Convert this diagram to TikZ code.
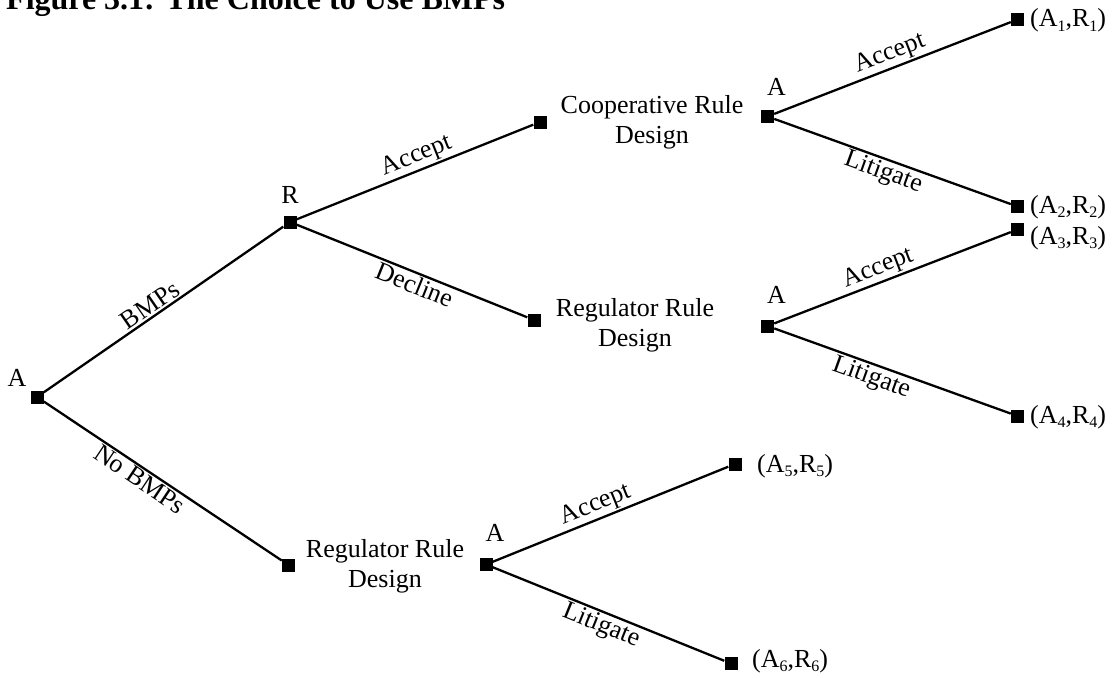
\documentclass[tikz,border=0pt]{standalone}
\usepackage{fontspec}
\setmainfont{Liberation Serif}
\newcommand\subidx[1]{\raisebox{-4.5pt}{\fontsize{16}{16}\selectfont #1}}
\begin{document}
\begin{tikzpicture}[x=1pt,y=1pt,
  sq/.style={rectangle, fill=black, inner sep=0pt, minimum size=13pt},
  edge/.style={line width=2.3pt},
  txt/.style={inner sep=0pt, font=\fontsize{26}{30}\selectfont},
  blk/.style={inner sep=0pt, align=center, font=\fontsize{26}{30}\selectfont},
  lab/.style={sloped, inner sep=1.5pt, font=\fontsize{26}{30}\selectfont}]
\useasboundingbox (0,0) rectangle (1118,-677);

% title
\node[anchor=base west, inner sep=0pt, font=\fontsize{32}{36}\selectfont\bfseries] (title) at (6,-9.5) {Figure 3.1: The Choice to Use BMPs};

% decision squares
\node[sq] (root) at (37,-397) {};
\node[sq] (R) at (290,-222) {};
\node[sq] (coop) at (540,-122) {};
\node[sq] (Aup) at (767.5,-116.5) {};
\node[sq] (t1) at (1017.5,-19.5) {};
\node[sq] (t2) at (1017.5,-206.5) {};
\node[sq] (dec) at (534,-320) {};
\node[sq] (Amid) at (767.5,-326) {};
\node[sq] (t3) at (1017.5,-229.5) {};
\node[sq] (t4) at (1017.5,-416) {};
\node[sq] (nob) at (288.5,-565) {};
\node[sq] (Alow) at (486,-564.5) {};
\node[sq] (t5) at (735,-464) {};
\node[sq] (t6) at (731,-663.5) {};

% player labels
\node[txt] (lroot) at (17,-377.5) {A};
\node[txt] (lR) at (290,-195) {R};
\node[txt] (lAup) at (776.5,-87) {A};
\node[txt] (lAmid) at (776.5,-295) {A};
\node[txt] (lAlow) at (495,-532.5) {A};

% stage texts
\node[blk] (coopt) at (652,-122) {Cooperative Rule\\Design};
\node[blk] (regmid) at (635,-325) {Regulator Rule\\Design};
\node[blk] (reglow) at (385,-566) {Regulator Rule\\Design};

% payoffs
\node[txt, anchor=base west] (p1) at (1030,-27) {(A\subidx{1},R\subidx{1})};
\node[txt, anchor=base west] (p2) at (1030,-213) {(A\subidx{2},R\subidx{2})};
\node[txt, anchor=base west] (p3) at (1030,-244) {(A\subidx{3},R\subidx{3})};
\node[txt, anchor=base west] (p4) at (1030,-423) {(A\subidx{4},R\subidx{4})};
\node[txt, anchor=base west] (p5) at (757,-472) {(A\subidx{5},R\subidx{5})};
\node[txt, anchor=base west] (p6) at (752,-667) {(A\subidx{6},R\subidx{6})};

% branches
\draw[edge] (root) -- node[lab, above, pos=.47] {BMPs} (R);
\draw[edge] (root) -- node[lab, below, pos=.43] {No BMPs} (nob);
\draw[edge] (R) -- node[lab, above, pos=.53] {Accept} (coop);
\draw[edge] (R) -- node[lab, below, pos=.53] {Decline} (dec);
\draw[edge] (Aup) -- node[lab, above, pos=.51] {Accept} (t1);
\draw[edge] (Aup) -- node[lab, below, pos=.48] {Litigate} (t2);
\draw[edge] (Amid) -- node[lab, above, pos=.46] {Accept} (t3);
\draw[edge] (Amid) -- node[lab, below, pos=.43] {Litigate} (t4);
\draw[edge] (Alow) -- node[lab, above, pos=.46] {Accept} (t5);
\draw[edge] (Alow) -- node[lab, below, pos=.49] {Litigate} (t6);
\end{tikzpicture}
\end{document}
